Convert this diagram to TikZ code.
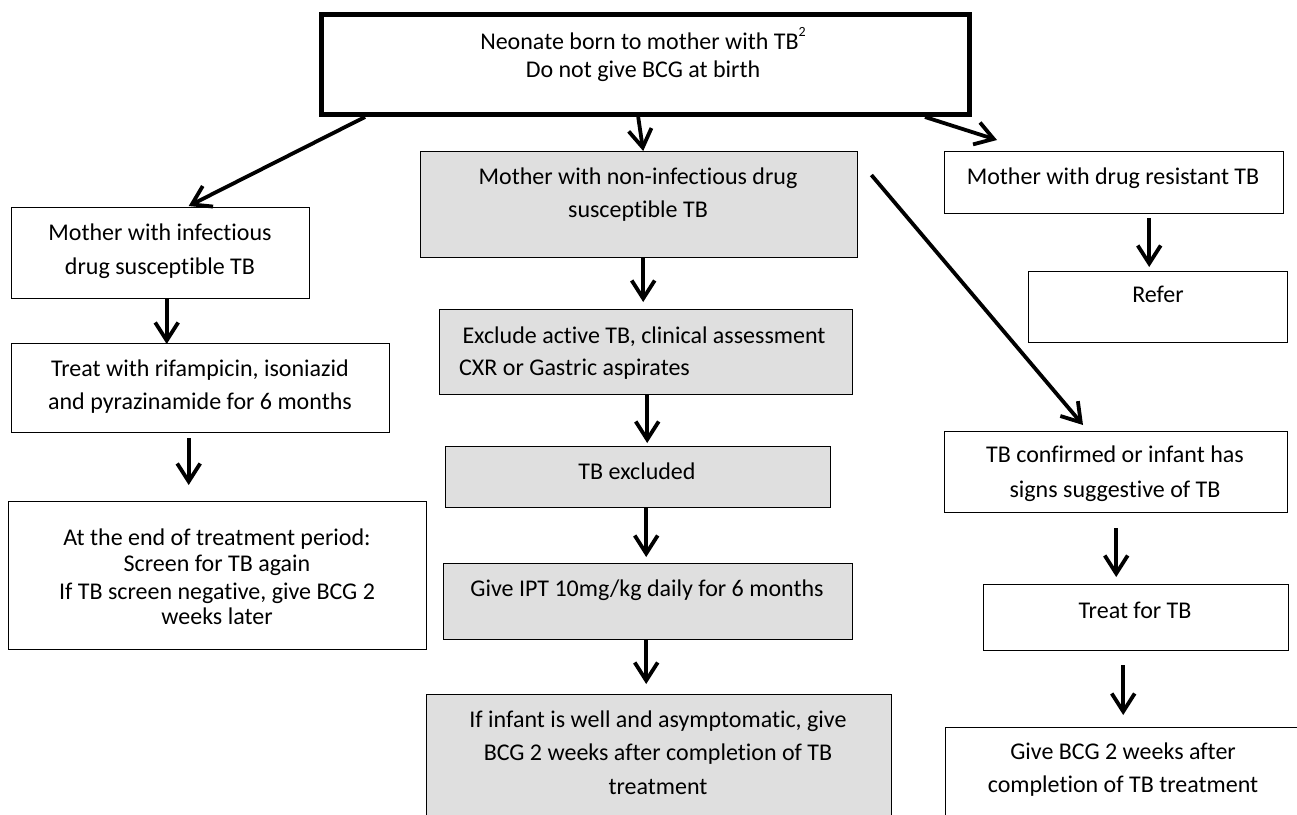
\documentclass[tikz,border=0pt]{standalone}
\usepackage{fontspec}
\setmainfont{Carlito}[Ligatures=NoCommon]
\usetikzlibrary{arrows.meta}
\definecolor{boxgray}{RGB}{223,223,223}
\tikzset{
  box/.style={draw=black, line width=1.4pt, rectangle, inner sep=0pt, anchor=north west},
  greybox/.style={box, fill=boxgray},
  headbox/.style={box, line width=5pt},
  txt/.style={inner sep=0pt, anchor=mid, font=\fontsize{24}{29}\selectfont},
  txtw/.style={txt, anchor=mid west},
  arr/.style={line width=3.8pt, -{Straight Barb[length=18pt,width=23pt,line width=3.8pt]}},
}
\begin{document}
\begin{tikzpicture}[x=1pt, y=-1pt]
\useasboundingbox (0,0) rectangle (1297,814);
\clip (0,0) rectangle (1297,814);

% head of the chart
\node[headbox, minimum width=648pt, minimum height=100pt] (top) at (319,12) {};
\node[txt] (t1) at (643,47) {Neonate born to mother with TB\raisebox{0.55em}{\fontsize{14}{14}\selectfont 2}};
\node[txt] (t2) at (643,75) {Do not give BCG at birth};

% left branch: infectious, drug susceptible
\node[box, minimum width=298pt, minimum height=91pt] (l1) at (11,207) {};
\node[txt] (l1a) at (160,238) {Mother with infectious};
\node[txt] (l1b) at (160,272) {drug susceptible TB};

\node[box, minimum width=378pt, minimum height=89pt] (l2) at (11,343) {};
\node[txt] (l2a) at (200,374) {Treat with rifampicin, isoniazid};
\node[txt] (l2b) at (200,407) {and pyrazinamide for 6 months};

\node[box, minimum width=418pt, minimum height=148pt] (l3) at (8,501) {};
\node[txt] (l3a) at (217,543) {At the end of treatment period:};
\node[txt] (l3b) at (217,569) {Screen for TB again};
\node[txt] (l3c) at (217,597) {If TB screen negative, give BCG 2};
\node[txt] (l3d) at (217,622) {weeks later};

% middle branch: non-infectious, drug susceptible
\node[greybox, minimum width=437pt, minimum height=106pt] (c1) at (420,151) {};
\node[txt] (c1a) at (638,182) {Mother with non-infectious drug};
\node[txt] (c1b) at (638,215) {susceptible TB};

\node[greybox, minimum width=413pt, minimum height=85pt] (c2) at (439,309) {};
\node[txt] (c2a) at (644,341) {Exclude active TB, clinical assessment};
\node[txtw] (c2b) at (459,373) {CXR or Gastric aspirates};

\node[greybox, minimum width=385pt, minimum height=61pt] (c3) at (445,446) {};
\node[txt] (c3a) at (637,477) {TB excluded};

\node[greybox, minimum width=409pt, minimum height=76pt] (c4) at (443,563) {};
\node[txt] (c4a) at (647,594) {Give IPT 10mg/kg daily for 6 months};

\node[greybox, minimum width=465pt, minimum height=140pt] (c5) at (426,694) {};
\node[txt] (c5a) at (658,725) {If infant is well and asymptomatic, give};
\node[txt] (c5b) at (658,758) {BCG 2 weeks after completion of TB};
\node[txt] (c5c) at (658,792) {treatment};

% right branch: drug resistant, and confirmed TB
\node[box, minimum width=339pt, minimum height=62pt] (r1) at (944,151) {};
\node[txt] (r1a) at (1113,182) {Mother with drug resistant TB};

\node[box, minimum width=259pt, minimum height=71pt] (r2) at (1028,271) {};
\node[txt] (r2a) at (1158,300) {Refer};

\node[box, minimum width=343pt, minimum height=81pt] (r3) at (944,431) {};
\node[txt] (r3a) at (1115,460) {TB confirmed or infant has};
\node[txt] (r3b) at (1115,495) {signs suggestive of TB};

\node[box, minimum width=305pt, minimum height=66pt] (r4) at (983,584) {};
\node[txt] (r4a) at (1135,616) {Treat for TB};

\node[box, minimum width=380pt, minimum height=120pt] (r5) at (945,727) {};
\node[txt] (r5a) at (1123,757) {Give BCG 2 weeks after};
\node[txt] (r5b) at (1123,790) {completion of TB treatment};

% connectors
\draw[arr] ([xshift=46pt]top.south west) -- ([xshift=28pt,yshift=1pt]l1.north);
\draw[arr] ([xshift=-1pt]top.south -| c1.north) -- ([xshift=4pt]c1.north);
\draw[arr] ([xshift=-47pt]top.south east) -- ([xshift=53pt,yshift=11pt]r1.north west);

\draw[arr] ([xshift=6pt]l1.south) -- ([xshift=6pt,yshift=-1pt]l1.south |- l2.north);
\draw[arr] ([xshift=-12pt,yshift=-5pt]l2.south) -- ([xshift=-12pt,yshift=16pt]l2.south |- l3.north);

\draw[arr] ([xshift=4pt]c1.south) -- ([xshift=4pt,yshift=7pt]c1.south |- c2.north);
\draw[arr] ([xshift=8pt]c2.south -| c1.south) -- ([xshift=8pt,yshift=3pt]c1.south |- c3.north);
\draw[arr] ([xshift=-2pt]c3.south -| c4.north) -- ([xshift=-2pt,yshift=6pt]c4.north);
\draw[arr] ([xshift=-2pt]c4.south) -- ([xshift=-2pt,yshift=10pt]c4.south |- c5.north);

\draw[arr] ([xshift=13pt,yshift=-24pt]c1.north east) -- ([xshift=139pt,yshift=6pt]r3.north west);

\draw[arr] ([xshift=35pt,yshift=-4pt]r1.south) -- ([xshift=35pt,yshift=4pt]r1.south |- r2.north);
\draw[arr] ([yshift=-15pt]r3.south) -- ([yshift=7pt]r3.south |- r4.north);
\draw[arr] ([xshift=-13pt,yshift=-14pt]r4.south) -- ([xshift=-13pt,yshift=12pt]r4.south |- r5.north);
\end{tikzpicture}
\end{document}
